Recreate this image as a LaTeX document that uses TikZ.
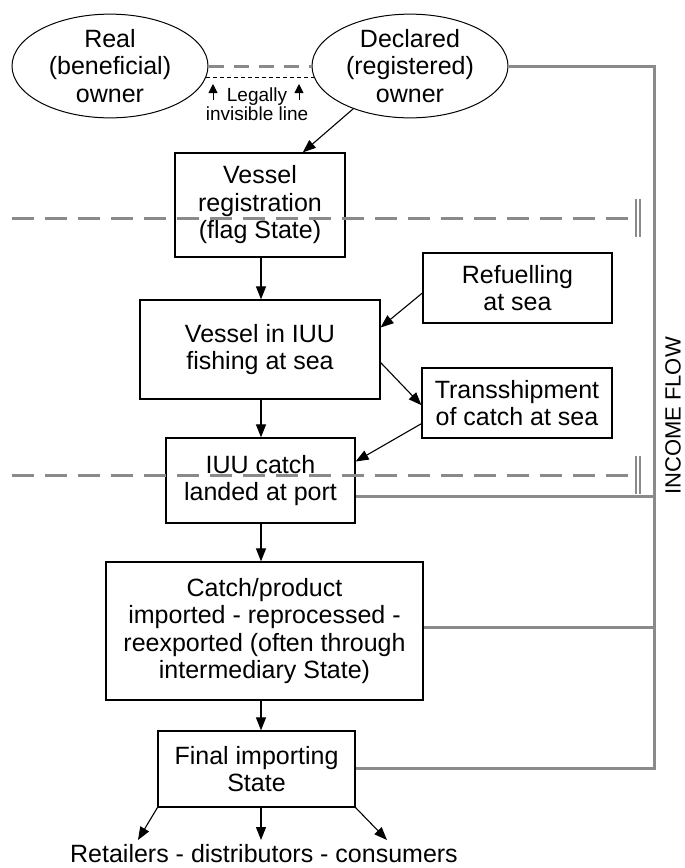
\documentclass[tikz,border=0pt]{standalone}
\usepackage{fontspec}
\setmainfont{Liberation Sans}
\usetikzlibrary{arrows.meta,calc,shapes.geometric}
\definecolor{flowgray}{RGB}{138,138,138}
\begin{document}
\begin{tikzpicture}[x=1pt,y=-1pt,
  txt/.style={font=\fontsize{25}{27.5}\selectfont, align=center},
  box/.style={txt, draw=black, line width=1.2pt, inner sep=0pt},
  owner/.style={txt, ellipse, draw=black, line width=1pt, inner sep=0pt,
    minimum width=196pt, minimum height=100pt},
  arr/.style={-{Triangle[length=13pt,width=10pt]}, line width=1.1pt},
  smallarr/.style={-{Triangle[length=9pt,width=9pt]}, line width=0.9pt},
  flow/.style={draw=flowgray, line width=3pt},
  gdash/.style={draw=flowgray, line width=3pt, dash pattern=on 15pt off 10pt},
  bigdash/.style={draw=flowgray, line width=3pt, dash pattern=on 22pt off 11pt},
  thindash/.style={draw=black, line width=0.8pt, dash pattern=on 4pt off 3pt},
  bar/.style={draw=flowgray, line width=1.8pt}
]
\useasboundingbox (0,0) rectangle (685,868);

% owners
\node[owner] (real) at (110,66) {Real\\(beneficial)\\owner};
\node[owner] (decl) at (410,66) {Declared\\(registered)\\owner};

% boxes
\node[box, minimum width=170pt, minimum height=104pt] (reg) at (260,205) {Vessel\\registration\\(flag State)};
\node[box, minimum width=240pt, minimum height=99pt] (vi) at (260,349.5) {Vessel in IUU\\fishing at sea};
\node[box, minimum width=189pt, minimum height=70pt] (ref) at (517.5,288) {Refuelling\\at sea};
\node[box, minimum width=190pt, minimum height=70pt] (trans) at (517,403) {Transshipment\\of catch at sea};
\node[box, minimum width=189pt, minimum height=85pt] (iuu) at (260.5,480.5) {IUU catch\\landed at port};
\node[box, minimum width=317pt, minimum height=138pt] (cat) at (264.5,631) {Catch/product\\imported - reprocessed -\\reexported (often through\\intermediary State)};
\node[box, minimum width=197pt, minimum height=76pt] (fin) at (256.5,769) {Final importing\\State};
\node[txt, inner sep=0pt] (ret) at (264,854) {Retailers - distributors - consumers};
\node[inner sep=0pt, rotate=90, font=\fontsize{22}{24}\selectfont] (inc) at (673,416) {INCOME FLOW};

% legally invisible line
\node[inner sep=0pt, align=center, font=\fontsize{19}{16.5}\selectfont] (leg) at (257,104) {Legally\\invisible line};
\coordinate (t1) at (206,77);
\coordinate (t2) at (315,77);
\coordinate (a1s) at (213,100);
\coordinate (a1e) at (213,84);
\coordinate (a2s) at (299,100);
\coordinate (a2e) at (299,84);
\draw[gdash] (real.east) -- (decl.west);
\draw[thindash] (t1) -- (t2);
\draw[smallarr] (a1s) -- (a1e);
\draw[smallarr] (a2s) -- (a2e);

% income flow
\coordinate (axis) at (261,0);
\coordinate (fbot) at (654,768);
\coordinate (ftop) at (decl.east -| fbot);
\draw[flow] (decl.east) -- (ftop) -- (fbot) -- (fin.east |- fbot);
\coordinate (iuuo) at ($(iuu.north east)!0.69!(iuu.south east)$);
\draw[flow] (iuuo) -- (iuuo -| ftop);
\coordinate (cato) at (cat.east |- 0,627);
\draw[flow] (cato) -- (cato -| ftop);

% arrows
\draw[arr] (decl.217) -- ($(reg.north west)!0.75!(reg.north east)$);
\draw[arr] (reg.south -| axis) -- (vi.north -| axis);
\draw[arr] ($(ref.north west)!0.57!(ref.south west)$) -- ($(vi.north east)!0.28!(vi.south east)$);
\draw[arr] ($(vi.north east)!0.63!(vi.south east)$) -- ($(trans.north west)!0.53!(trans.south west)$);
\draw[arr] ($(trans.north west)!0.79!(trans.south west)$) -- ($(iuu.north east)!0.28!(iuu.south east)$);
\draw[arr] (vi.south -| axis) -- (iuu.north -| axis);
\draw[arr] (iuu.south -| axis) -- (cat.north -| axis);
\draw[arr] (cat.south -| axis) -- (fin.north -| axis);
\coordinate (r1) at (138,840);
\coordinate (r2) at (261,840);
\coordinate (r3) at (387,840);
\draw[arr] (fin.south west) -- (r1);
\draw[arr] (fin.south -| axis) -- (r2);
\draw[arr] (fin.south east) -- (r3);

% state boundaries
\coordinate (d1a) at (12,218);
\coordinate (d1b) at (630,218);
\coordinate (d2a) at (12,475);
\coordinate (d2b) at (630,475);
\draw[bigdash] (d1a) -- (d1b);
\draw[bigdash] (d2a) -- (d2b);
\draw[bar] (636,199) -- (636,237);
\draw[bar] (640,199) -- (640,237);
\draw[bar] (636,456) -- (636,494);
\draw[bar] (640,456) -- (640,494);
\end{tikzpicture}
\end{document}
